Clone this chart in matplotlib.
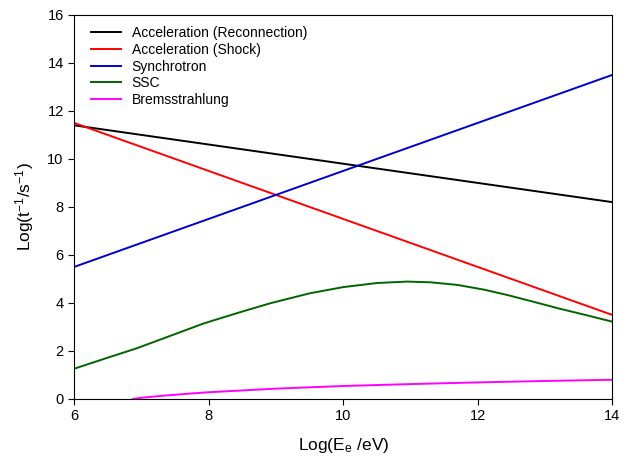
import matplotlib
matplotlib.use("Agg")
import matplotlib.pyplot as plt

plt.rcParams['font.family'] = ['Liberation Sans', 'DejaVu Sans']
plt.rcParams['mathtext.default'] = 'regular'

# straight lines, read at the two ends
x_lin = [6, 14]
recon = [11.4, 8.2]
shock = [11.5, 3.5]
synch = [5.5, 13.5]

# SSC curve
x_ssc = [6.0, 6.5, 6.93, 7.45, 7.93, 8.45, 8.92, 9.5, 10.0, 10.5, 10.95,
         11.3, 11.7, 12.1, 12.44, 12.8, 13.19, 13.6, 14.0]
ssc = [1.26, 1.72, 2.11, 2.65, 3.15, 3.6, 3.99, 4.4, 4.66, 4.83, 4.89,
       4.86, 4.75, 4.55, 4.33, 4.07, 3.78, 3.5, 3.22]

# Bremsstrahlung curve
x_brem = [6.87, 7.0, 7.3, 7.7, 8.0, 9.0, 10.0, 11.0, 12.0, 13.0, 14.0]
brem = [0.0, 0.05, 0.13, 0.22, 0.28, 0.43, 0.54, 0.62, 0.69, 0.75, 0.80]

fig = plt.figure(figsize=(6.28, 4.65), dpi=100)
ax = fig.add_axes([0.118, 0.142, 0.857, 0.826])

lw = 1.4
ax.plot(x_lin, recon, color='black', lw=lw, label='Acceleration (Reconnection)')
ax.plot(x_lin, shock, color='#ff0000', lw=lw, label='Acceleration (Shock)')
ax.plot(x_lin, synch, color='#0000cc', lw=lw, label='Synchrotron')
ax.plot(x_ssc, ssc, color='#006400', lw=lw, label='SSC')
ax.plot(x_brem, brem, color='#ff00ff', lw=lw, label='Bremsstrahlung')

ax.set_xlim(6, 14)
ax.set_ylim(0, 16)
ax.set_xticks([6, 8, 10, 12, 14])
ax.set_yticks(range(0, 17, 2))
ax.tick_params(direction='out', length=4, labelsize=10.5)
ax.set_xlabel('Log(E$_e$ /eV)', fontsize=12.5, labelpad=9)
ax.set_ylabel('Log(t$^{-1}$/s$^{-1}$)', fontsize=12.5, labelpad=8)

ax.legend(loc='upper left', frameon=False, fontsize=10, handlelength=2.2,
          handletextpad=0.75, labelspacing=0.2, borderaxespad=0.4,
          bbox_to_anchor=(0.01, 1.0))

fig.savefig('out.png', dpi=100)
